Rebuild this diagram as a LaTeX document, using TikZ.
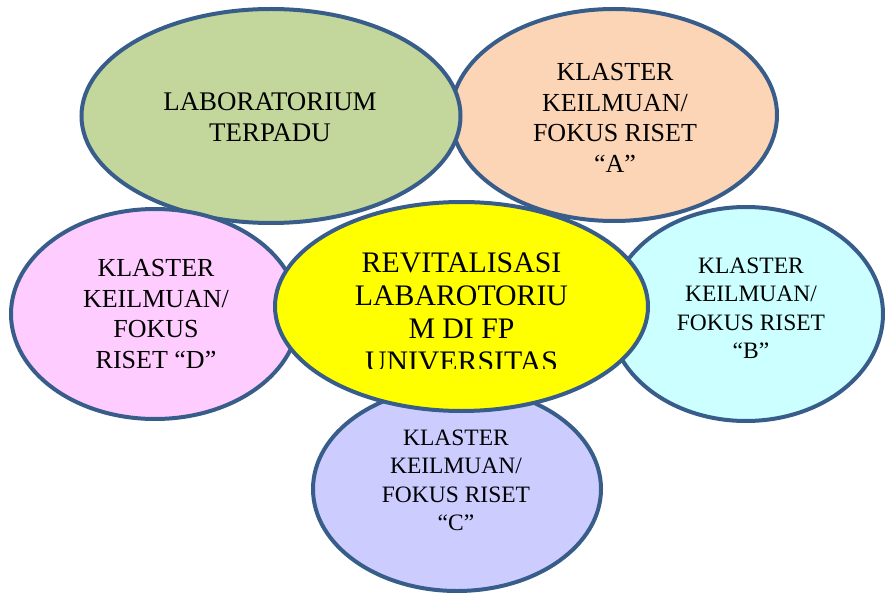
\documentclass[tikz,border=0pt]{standalone}
\usepackage{fontspec}
\setmainfont{Liberation Serif}
\usetikzlibrary{shapes.geometric}
\definecolor{edge}{HTML}{385D8A}
\definecolor{fgreen}{HTML}{C3D69B}
\definecolor{fpeach}{HTML}{FBD5B5}
\definecolor{fpink}{HTML}{FFCCFF}
\definecolor{fcyan}{HTML}{CCFFFF}
\definecolor{flav}{HTML}{CCCCFF}
\definecolor{fyellow}{HTML}{FFFF00}
\tikzset{
  blob/.style={ellipse, draw=edge, line width=4pt, inner sep=0pt, outer sep=0pt},
  lbl/.style={anchor=north, inner sep=0pt, align=center, text=black},
  bigtxt/.style={lbl, font=\fontsize{26}{30.7}\selectfont},
  grntxt/.style={lbl, font=\fontsize{26.9}{31}\selectfont},
  midtxt/.style={lbl, font=\fontsize{23.5}{28.4}\selectfont},
  toptxt/.style={lbl, font=\fontsize{29.8}{33}\selectfont},
}
\begin{document}
\begin{tikzpicture}[x=1pt,y=-1pt]
\useasboundingbox (0,0) rectangle (885,593);
% ellipses
\node[blob, fill=fpeach, minimum width=326pt, minimum height=212pt] (ea) at (614,115) {};
\node[blob, fill=fgreen, minimum width=379pt, minimum height=214pt] (eg) at (271,116) {};
\node[blob, fill=fpink, minimum width=288pt, minimum height=210pt] (ed) at (155,314) {};
\node[blob, fill=fcyan, minimum width=274pt, minimum height=214pt] (eb) at (746,314) {};
\node[blob, fill=flav, minimum width=288pt, minimum height=204pt] (ec) at (457,489) {};
\node[blob, fill=fyellow, minimum width=373pt, minimum height=209pt] (em) at (461.5,306.5) {};
% texts
\node[grntxt] (tg) at (270,92.6) {LABORATORIUM\\TERPADU};
\node[bigtxt] (ta) at (615,62.9) {KLASTER\\KEILMUAN/\\FOKUS RISET\\“A”};
\node[bigtxt] (td) at (156,258.9) {KLASTER\\KEILMUAN/\\FOKUS\\RISET “D”};
\node[midtxt] (tb) at (751,257.8) {KLASTER\\KEILMUAN/\\FOKUS RISET\\“B”};
\node[midtxt] (tc) at (456,429.8) {KLASTER\\KEILMUAN/\\FOKUS RISET\\“C”};
\begin{scope}
\clip (330,240) rectangle (600,368.5);
\node[toptxt] (tm) at (461.5,252.6) {REVITALISASI\\LABAROTORIU\\M DI FP\\UNIVERSITAS};
\end{scope}
\end{tikzpicture}
\end{document}
